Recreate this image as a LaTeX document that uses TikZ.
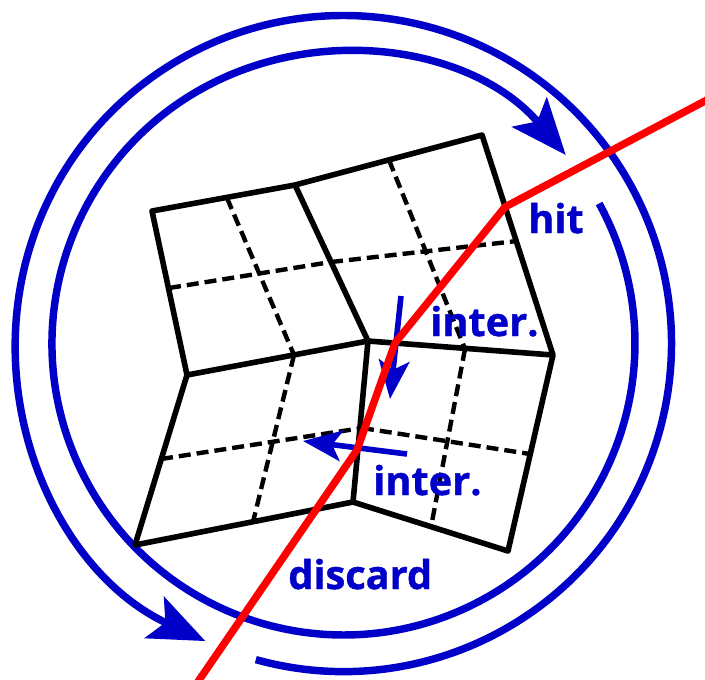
\documentclass[tikz,border=0pt]{standalone}
\usepackage{fontspec}
\setmainfont{Open Sans}[BoldFeatures={FakeBold=1}]
\usetikzlibrary{arrows.meta}
\definecolor{hitblue}{RGB}{0,0,200}
\tikzset{
  ray/.style={draw=red,line width=5.6pt,line join=round},
  orbit/.style={draw=hitblue,line width=5.6pt,-{Stealth[length=42pt,width=34pt,inset=9pt]}},
  normalarrow/.style={draw=hitblue,line width=4.2pt,-{Stealth[length=29pt,width=23pt,inset=7pt]}},
  cell/.style={draw=black,line width=4.2pt,line join=round},
  sub/.style={draw=black,line width=3.3pt,dash pattern=on 9pt off 4.5pt},
  lab/.style={text=hitblue,font=\bfseries\fontsize{29.8}{33}\selectfont,anchor=base west,inner sep=0pt}
}
\begin{document}
\begin{tikzpicture}[x=0.75pt,y=-0.75pt]
\useasboundingbox (0,0) rectangle (705,679);
\clip (0,0) rectangle (705,679);
% mesh vertices
\coordinate (a) at (152,211);
\coordinate (b) at (295,185);
\coordinate (c) at (482,135);
\coordinate (d) at (553,355);
\coordinate (e) at (368,341);
\coordinate (f) at (187,375);
\coordinate (g) at (508,551);
\coordinate (h) at (353,502);
\coordinate (i) at (135,545);
% dashed end points
\coordinate (t1) at (227,198);
\coordinate (t2) at (294,355);
\coordinate (t3) at (253,522);
\coordinate (u1) at (169,288);
\coordinate (u2) at (331,262);
\coordinate (u3) at (517,241);
\coordinate (v1) at (389,160);
\coordinate (v2) at (465,349);
\coordinate (v3) at (431,527);
\coordinate (w1) at (161,459);
\coordinate (w2) at (362,428);
\coordinate (w3) at (530,454);
% ray points
\coordinate (r0) at (720,93);
\coordinate (r1) at (505,207);
\coordinate (r2) at (395,343);
\coordinate (r3) at (357,450);
\coordinate (r4) at (195,686);
% orbits
\coordinate (o1) at (599.1,203.5);
\coordinate (o2) at (255.8,659.6);
\draw[orbit] (o1) arc[start angle=28.7,end angle=-319.7,radius=218.6pt];
\draw[orbit] (o2) arc[start angle=-105.5,end angle=245.1,radius=246pt];
% dashed cell subdivision
\draw[sub] (t1) -- (t2);
\draw[sub] (t2) -- (t3);
\draw[sub] (u1) -- (u2);
\draw[sub] (u2) -- (u3);
\draw[sub] (v1) -- (v2);
\draw[sub] (v2) -- (v3);
\draw[sub] (w1) -- (w2);
\draw[sub] (w2) -- (w3);
% cells
\draw[cell] (a) -- (b) -- (e) -- (f) -- cycle;
\draw[cell] (b) -- (c) -- (d) -- (e);
\draw[cell] (d) -- (g) -- (h) -- (e);
\draw[cell] (h) -- (i) -- (f);
% normals
\coordinate (n1s) at (401,296);
\coordinate (n1e) at (390,399);
\coordinate (n2s) at (407,454);
\coordinate (n2e) at (303,441);
\draw[normalarrow] (n1s) -- (n1e);
\draw[normalarrow] (n2s) -- (n2e);
% ray
\draw[ray] (r0) -- (r1) -- (r2) -- (r3) -- (r4);
% labels
\node[lab] (hit) at (528,233) {hit};
\node[lab] (int1) at (430,336) {inter.};
\node[lab] (int2) at (373,495) {inter.};
\node[lab] (dis) at (288,589) {discard};
\end{tikzpicture}
\end{document}
